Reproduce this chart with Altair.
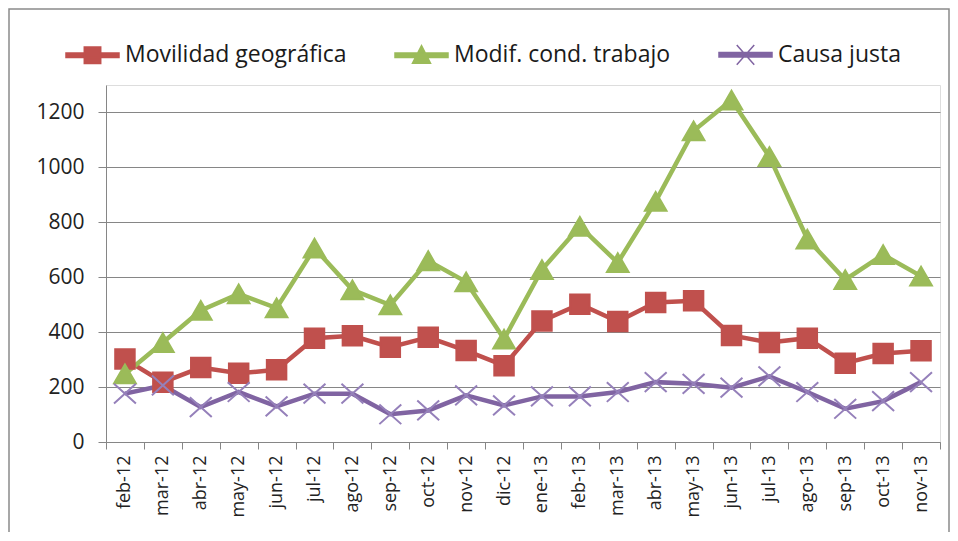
import altair as alt
import pandas as pd

months = ["feb-12", "mar-12", "abr-12", "may-12", "jun-12", "jul-12", "ago-12",
          "sep-12", "oct-12", "nov-12", "dic-12", "ene-13", "feb-13", "mar-13",
          "abr-13", "may-13", "jun-13", "jul-13", "ago-13", "sep-13", "oct-13", "nov-13"]
series = ["Movilidad geográfica", "Modif. cond. trabajo", "Causa justa"]
movilidad = [302, 218, 271, 250, 263, 378, 387, 345, 381, 333, 278,
             441, 502, 439, 508, 514, 388, 362, 378, 287, 322, 332]
modif = [248, 362, 479, 539, 488, 706, 554, 499, 660, 583, 375,
         628, 785, 653, 876, 1133, 1245, 1039, 739, 591, 682, 604]
causa = [176, 206, 127, 182, 130, 176, 176, 101, 115, 170, 133,
         166, 166, 182, 218, 212, 198, 239, 182, 121, 149, 218]
y_ticks = [0, 200, 400, 600, 800, 1000, 1200]

colors = ["#C0504D", "#9BBB59", "#8064A2"]
strokes = ["#C0504D", "#9BBB59", "#9580BA"]
X_PATH = "M-1,-0.9L1,0.9M1,-0.9L-1,0.9"
marker_shapes = ["square", "triangle-up", X_PATH]
marker_sizes = [380, 470, 480]
legend_shapes = [
    "M-1,-0.085H1V0.085H-1Z M-0.31,-0.31H0.31V0.31H-0.31Z",
    "M-1,-0.085H1V0.085H-1Z M0,-0.36L0.34,0.3H-0.34Z",
    "M-1,-0.085H1V0.085H-1Z M-0.33,-0.37L0.33,0.37M0.33,-0.37L-0.33,0.37",
]

rows = []
for s, vals in zip(series, [movilidad, modif, causa]):
    for m, v in zip(months, vals):
        rows.append({"mes": m, "serie": s, "valor": v})
df = pd.DataFrame(rows)

FONT = "Open Sans"
GRID = "#868686"

x_enc = alt.X("mes:N", sort=months,
              scale=alt.Scale(type="band", paddingInner=0, paddingOuter=0),
              axis=alt.Axis(title=None, labelAngle=270, labelFont=FONT, labelFontSize=18,
                            labelColor="#222222", labelPadding=6, tickSize=7,
                            tickBand="extent", tickColor=GRID, domainColor=GRID,
                            grid=False))
y_enc = alt.Y("valor:Q", scale=alt.Scale(domain=[0, 1300], nice=False, zero=True),
              axis=alt.Axis(title=None, values=y_ticks, format="d", labelFont=FONT,
                            labelFontSize=21, labelColor="#222222", labelPadding=14,
                            tickSize=8, tickColor=GRID, domainColor=GRID, grid=True,
                            gridColor=GRID, gridWidth=1))

color_scale = alt.Scale(domain=series, range=colors)
stroke_scale = alt.Scale(domain=series, range=strokes)

leg = alt.Legend(title=None, orient="none", legendX=-41, legendY=-58, direction="horizontal",
                 symbolSize=2809, labelFont=FONT, labelFontSize=23, labelColor="#1a1a1a",
                 labelOffset=5, columnPadding=45, labelLimit=400, symbolStrokeWidth=1.5,
                 symbolOpacity=1)

base = alt.Chart(df).encode(x=x_enc, y=y_enc)

legend_layer = base.mark_point(filled=True, size=1, opacity=1, strokeWidth=1.5).encode(
    color=alt.Color("serie:N", sort=series, scale=color_scale, legend=leg),
    stroke=alt.Stroke("serie:N", sort=series, scale=stroke_scale, legend=leg),
    shape=alt.Shape("serie:N", sort=series,
                    scale=alt.Scale(domain=series, range=legend_shapes), legend=leg),
)

lines = base.mark_line(strokeWidth=4.5).encode(
    color=alt.Color("serie:N", sort=series, scale=color_scale, legend=None),
    detail="serie:N",
)

point_layers = []
for s, shp, sz in zip(series, marker_shapes, marker_sizes):
    point_layers.append(
        base.transform_filter(alt.datum.serie == s).mark_point(
            filled=True, size=sz, opacity=1, strokeWidth=2, shape=shp
        ).encode(
            color=alt.Color("serie:N", sort=series, scale=color_scale, legend=None),
            stroke=alt.Stroke("serie:N", sort=series, scale=stroke_scale, legend=None),
        )
    )

frame = alt.Chart(pd.DataFrame({"f": [0]})).mark_rect(
    filled=False, stroke="#8a8a8a", strokeWidth=1.5
).encode(x=alt.value(-97), x2=alt.value(843), y=alt.value(-76), y2=alt.value(470))

chart = alt.layer(frame, legend_layer, lines, *point_layers).properties(
    width=834, height=357,
    autosize=alt.AutoSizeParams(type="none"),
    padding={"left": 98, "top": 77, "right": 10, "bottom": 90},
).configure_view(stroke=None).configure(background="white")

chart.save("out.html", embed_options={"renderer": "svg", "actions": False})
